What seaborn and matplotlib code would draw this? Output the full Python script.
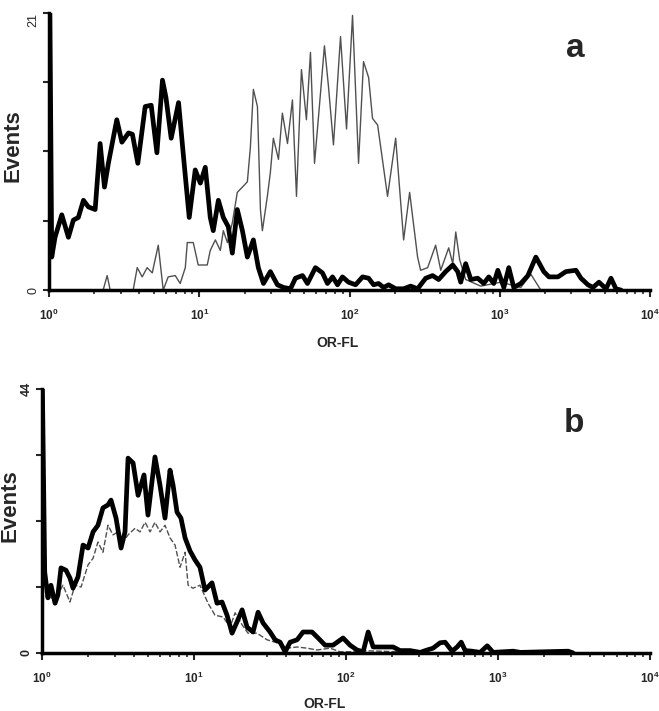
import numpy as np
import matplotlib
matplotlib.use('Agg')
import matplotlib.pyplot as plt
import seaborn as sns
from matplotlib.ticker import FixedLocator, LogLocator, NullFormatter

# panel a : positions in decades (log10 of OR-FL), counts
a_thick_log = [0.0, 0.018, 0.04, 0.085, 0.129, 0.162, 0.195, 0.229, 0.262, 0.307,
               0.34, 0.369, 0.395, 0.451, 0.485, 0.529, 0.555, 0.591, 0.64, 0.68,
               0.718, 0.755, 0.778, 0.813, 0.862, 0.895, 0.933, 0.973, 1.007, 1.04,
               1.073, 1.093, 1.127, 1.16, 1.193, 1.22, 1.253, 1.287, 1.32, 1.36,
               1.393, 1.427, 1.473, 1.52, 1.56, 1.607, 1.64, 1.687, 1.72, 1.773,
               1.82, 1.853, 1.887, 1.92, 1.953, 1.993, 2.04, 2.087, 2.127, 2.16,
               2.193, 2.227, 2.26, 2.307, 2.36, 2.407, 2.453, 2.507, 2.553, 2.593,
               2.64, 2.687, 2.72, 2.74, 2.773, 2.807, 2.853, 2.893, 2.927, 2.96,
               2.987, 3.027, 3.06, 3.093, 3.14, 3.187, 3.24, 3.293, 3.327, 3.387,
               3.44, 3.507, 3.54, 3.587, 3.62, 3.66, 3.707, 3.74, 3.773, 3.807]
a_thick_events = [30, 2.5, 4.0, 5.7, 4.0, 5.3, 5.5, 6.8, 6.3, 6.1,
                  11.1, 7.8, 9.6, 12.9, 11.2, 11.9, 11.8, 9.6, 13.9, 14.0,
                  10.4, 15.9, 14.6, 11.5, 14.2, 10.1, 5.5, 9.1, 8.1, 9.3,
                  5.5, 4.5, 6.8, 5.5, 4.8, 2.8, 6.1, 4.5, 2.5, 3.8,
                  1.7, 0.5, 1.4, 0.4, 0.2, 0.1, 0.9, 1.1, 0.5, 1.7,
                  1.3, 0.5, 1.0, 0.4, 1.0, 0.6, 0.4, 1.0, 0.9, 0.4,
                  0.5, 0.2, 0.4, 0.1, 0.1, 0.3, 0.1, 0.9, 1.1, 0.8,
                  1.4, 1.9, 1.4, 0.6, 2.0, 0.8, 0.9, 0.5, 1.0, 0.5,
                  1.5, 0.2, 1.7, 0.2, 0.5, 1.1, 2.5, 1.4, 1.0, 1.0,
                  1.4, 1.5, 0.9, 0.4, 0.2, 0.6, 0.1, 0.9, 0.1, 0.0]

a_thin_log = [0.0, 0.36, 0.387, 0.407, 0.56, 0.587, 0.62, 0.653, 0.687, 0.727,
              0.76, 0.793, 0.84, 0.873, 0.907, 0.92, 0.96, 0.993, 1.053, 1.073,
              1.107, 1.14, 1.16, 1.187, 1.22, 1.253, 1.287, 1.32, 1.34, 1.36,
              1.387, 1.407, 1.42, 1.453, 1.473, 1.493, 1.527, 1.553, 1.587, 1.62,
              1.647, 1.68, 1.713, 1.74, 1.767, 1.8, 1.833, 1.86, 1.893, 1.94,
              1.98, 2.02, 2.06, 2.093, 2.127, 2.153, 2.187, 2.253, 2.307, 2.36,
              2.4, 2.453, 2.473, 2.52, 2.573, 2.607, 2.66, 2.687, 2.707, 2.733,
              2.773, 2.873, 3.007, 3.14, 3.207, 3.273]
a_thin_events = [0, 0, 1.1, 0, 0, 1.7, 1.0, 1.7, 1.3, 3.4,
                 0, 1.0, 1.1, 0.5, 1.7, 3.6, 3.6, 1.9, 1.9, 3.0,
                 3.8, 3.0, 4.5, 3.6, 5.1, 7.4, 7.8, 8.2, 10.8, 15.2,
                 13.9, 6.1, 4.5, 7.1, 8.9, 11.5, 9.9, 13.4, 11.1, 14.4,
                 7.1, 16.7, 12.9, 18.0, 9.6, 14.0, 18.5, 15.4, 11.0, 19.2,
                 12.2, 20.8, 9.6, 17.3, 16.1, 13.0, 12.5, 7.1, 11.5, 3.8,
                 7.4, 2.5, 1.5, 1.7, 3.4, 1.5, 3.2, 2.0, 4.4, 2.3,
                 0.8, 0.3, 0.6, 0.2, 1.2, 0.0]

# panel b
b_thick_log = [0.0, 0.018, 0.039, 0.059, 0.086, 0.105, 0.125, 0.158, 0.184, 0.204,
               0.237, 0.27, 0.303, 0.336, 0.368, 0.401, 0.434, 0.454, 0.487, 0.52,
               0.546, 0.566, 0.599, 0.632, 0.671, 0.697, 0.743, 0.776, 0.809, 0.842,
               0.862, 0.888, 0.914, 0.941, 0.974, 1.007, 1.039, 1.072, 1.118, 1.151,
               1.184, 1.217, 1.25, 1.283, 1.316, 1.349, 1.388, 1.421, 1.454, 1.5,
               1.533, 1.566, 1.599, 1.632, 1.678, 1.717, 1.776, 1.816, 1.862, 1.914,
               1.98, 2.026, 2.072, 2.112, 2.145, 2.178, 2.243, 2.309, 2.355, 2.421,
               2.487, 2.533, 2.572, 2.618, 2.651, 2.697, 2.73, 2.757, 2.783, 2.829,
               2.882, 2.928, 2.967, 3.099, 3.145, 3.461, 3.493]
b_thick_events = [50, 13.5, 9.2, 11.3, 8.3, 9.7, 14.2, 13.8, 12.5, 10.8,
                  12.7, 18.0, 17.5, 20.2, 21.3, 24.2, 24.7, 25.5, 22.5, 17.5,
                  20.2, 32.5, 31.7, 26.3, 29.7, 23.0, 32.7, 28.0, 22.5, 30.5,
                  28.0, 23.5, 22.5, 19.2, 17.0, 15.5, 14.3, 10.5, 11.7, 8.3,
                  8.5, 6.3, 3.3, 5.2, 7.2, 4.3, 3.5, 6.8, 5.0, 3.5,
                  2.2, 1.8, 0.2, 1.8, 2.2, 3.5, 3.5, 2.5, 1.3, 1.3,
                  2.5, 1.3, 0.5, 0.2, 3.5, 1.0, 1.0, 1.0, 0.4, 0.4,
                  0.1, 0.5, 0.8, 1.7, 1.8, 0.3, 1.0, 1.8, 0.4, 0.3,
                  0.1, 1.2, 0.1, 0.3, 0.1, 0.3, 0.0]

b_thin_log = [0.02, 0.059, 0.092, 0.138, 0.184, 0.217, 0.257, 0.303, 0.336, 0.368,
              0.401, 0.434, 0.467, 0.5, 0.533, 0.566, 0.612, 0.645, 0.678, 0.711,
              0.743, 0.776, 0.809, 0.842, 0.875, 0.908, 0.941, 0.961, 0.993, 1.039,
              1.092, 1.138, 1.191, 1.237, 1.27, 1.316, 1.355, 1.414, 1.48, 1.546,
              1.612, 1.678, 1.743, 1.809, 1.895, 1.961, 2.026, 2.092, 2.224, 2.355,
              2.487]
b_thin_events = [11.8, 9.2, 9.2, 11.3, 8.5, 11.3, 11.0, 14.7, 15.8, 18.5,
                 16.8, 21.3, 19.7, 20.2, 18.5, 19.7, 20.8, 20.2, 21.8, 20.2,
                 21.8, 20.2, 21.3, 19.2, 18.0, 14.3, 16.8, 11.3, 10.8, 11.3,
                 8.3, 6.3, 6.0, 4.3, 6.7, 4.7, 3.3, 3.3, 2.2, 1.7,
                 0.8, 1.0, 0.8, 0.5, 0.8, 0.2, 0.2, 0.4, 0.3, 0.2,
                 0.0]

decade_labels = [r'$\mathbf{10^{0}}$', r'$\mathbf{10^{1}}$', r'$\mathbf{10^{2}}$',
                 r'$\mathbf{10^{3}}$', r'$\mathbf{10^{4}}$']

sns.set_style('ticks')
plt.rcParams['font.family'] = ['Liberation Sans', 'DejaVu Sans']
plt.rcParams['mathtext.fontset'] = 'custom'
plt.rcParams['mathtext.rm'] = 'Liberation Sans:bold'
plt.rcParams['mathtext.bf'] = 'Liberation Sans:bold'
plt.rcParams['mathtext.it'] = 'Liberation Sans:bold'

fig = plt.figure(figsize=(6.59, 7.11), dpi=100)
ax1 = fig.add_axes([0.0744, 0.592, 0.912, 0.390])
ax2 = fig.add_axes([0.0637, 0.0816, 0.923, 0.371])


def draw_panel(ax, thick_log, thick_ev, thin_log, thin_ev, ymax, letter, thin_ls,
               top_va, ywt):
    sns.lineplot(x=10 ** np.array(thin_log), y=thin_ev, ax=ax, color='#505050',
                 linewidth=1.0, linestyle=thin_ls, sort=False, estimator=None)
    sns.lineplot(x=10 ** np.array(thick_log), y=thick_ev, ax=ax, color='black',
                 linewidth=3.4, sort=False, estimator=None)
    ax.set_xscale('log')
    ax.set_xlim(1, 1e4)
    ax.set_ylim(0, ymax)
    ax.xaxis.set_major_locator(FixedLocator([1, 10, 100, 1000, 10000]))
    ax.xaxis.set_minor_locator(LogLocator(base=10, subs=range(2, 10)))
    ax.xaxis.set_minor_formatter(NullFormatter())
    ax.set_xticklabels(decade_labels)
    ax.set_yticks([0, ymax / 4, ymax / 2, 3 * ymax / 4, ymax])
    ax.set_yticklabels(['0', '', '', '', str(ymax)], rotation=90, va='center',
                       fontweight=ywt)
    ax.get_yticklabels()[-1].set_va(top_va)
    ax.tick_params(axis='x', which='major', direction='out', length=5, width=1.5,
                   labelsize=8.5, pad=8)
    ax.tick_params(axis='x', which='minor', direction='out', length=3, width=1.2)
    ax.tick_params(axis='y', direction='out', length=4, width=1.5, labelsize=9, pad=3)
    sns.despine(ax=ax)
    for side in ['left', 'bottom']:
        ax.spines[side].set_linewidth(2.5)
        ax.spines[side].set_color('black')
    ax.set_xlabel('OR-FL', fontsize=10, fontweight='bold')
    ax.set_ylabel('Events', fontsize=16, fontweight='bold')
    ax.text(0.875, 0.87, letter, transform=ax.transAxes, fontsize=24,
            fontweight='bold', ha='center', va='center')


draw_panel(ax1, a_thick_log, a_thick_events, a_thin_log, a_thin_events, 21, 'a', '-',
           'top', 'normal')
draw_panel(ax2, b_thick_log, b_thick_events, b_thin_log, b_thin_events, 44, 'b',
           (0, (4, 1.5)), 'center', 'bold')

ax1.yaxis.set_label_coords(-0.043, 0.52)
ax2.yaxis.set_label_coords(-0.036, 0.56)
ax1.xaxis.set_label_coords(0.48, -0.165)
ax2.xaxis.set_label_coords(0.465, -0.165)

fig.savefig('out.png', dpi=100)
